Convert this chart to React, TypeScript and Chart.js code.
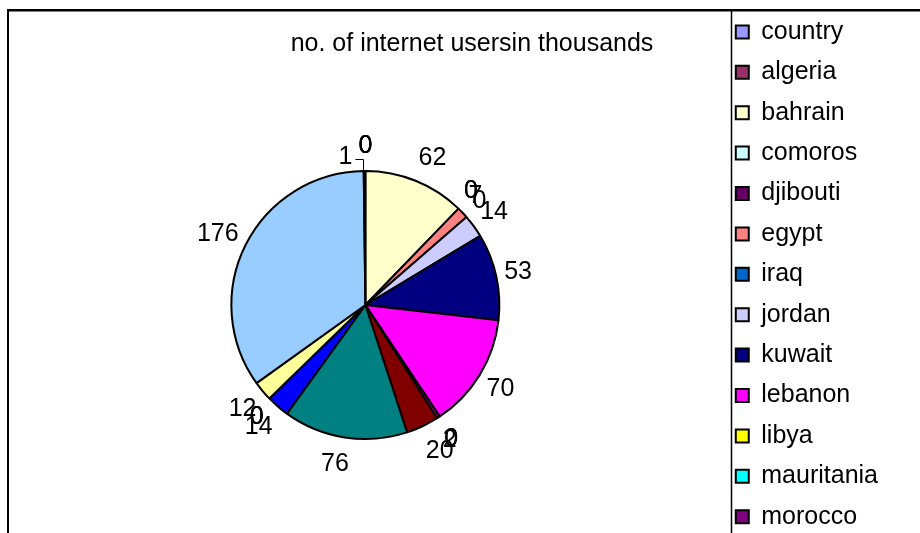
import React, { useEffect, useRef } from 'react';
import { Chart, registerables } from 'chart.js';

Chart.register(...registerables);

const categories = [
  'country', 'algeria', 'bahrain', 'comoros', 'djibouti', 'egypt', 'iraq', 'jordan',
  'kuwait', 'lebanon', 'libya', 'mauritania', 'morocco', 'oman', 'palestine', 'qatar',
  'saudi arabia', 'somalia', 'sudan', 'syria', 'tunisia', 'uae', 'yemen',
];
const users = [0, 0, 62, 0, 0, 7, 0, 14, 53, 70, 0, 0, 2, 20, 76, 14, 0, 0, 0, 12, 176, 1, 0];
const colors = [
  '#9999FF', '#993366', '#FFFFCC', '#CCFFFF', '#660066', '#FF8080', '#0066CC', '#CCCCFF',
  '#000080', '#FF00FF', '#FFFF00', '#00FFFF', '#800080', '#800000', '#008080', '#0000FF',
  '#00CCFF', '#CCFFFF', '#CCFFCC', '#FFFF99', '#99CCFF', '#FF99CC', '#CC99FF',
];
const titleText = 'no. of internet usersin thousands';
const visibleLegendItems = 13;

// style: labels that were dragged away from their slice (drawn with a leader line)
const labelNudges: Record<string, { dx: number; dy: number }> = {
  uae: { dx: -19, dy: 11 },
};

const FONT_FAMILY = '"Liberation Sans", Arial, sans-serif';
const FONT_SIZE = 25;

const framePlugin = {
  id: 'frame',
  beforeDraw(chart: any) {
    const { ctx, width, height } = chart;
    ctx.save();
    ctx.fillStyle = '#ffffff';
    ctx.fillRect(0, 0, width, height);
    ctx.restore();
  },
  afterDraw(chart: any) {
    const { ctx, width, height } = chart;
    ctx.save();
    ctx.strokeStyle = '#808080';
    ctx.lineWidth = 1;
    ctx.beginPath();
    ctx.moveTo(8, 11.5);
    ctx.lineTo(width, 11.5);
    ctx.stroke();
    ctx.strokeStyle = '#000000';
    ctx.lineWidth = 2;
    ctx.beginPath();
    ctx.moveTo(8, height);
    ctx.lineTo(8, 10);
    ctx.lineTo(width, 10);
    ctx.stroke();
    ctx.lineWidth = 1.5;
    ctx.beginPath();
    ctx.moveTo(731.5, 10);
    ctx.lineTo(731.5, height);
    ctx.stroke();
    ctx.fillStyle = '#000000';
    ctx.font = `${FONT_SIZE}px ${FONT_FAMILY}`;
    ctx.textAlign = 'center';
    ctx.textBaseline = 'middle';
    ctx.fillText(titleText, 472, 44);
    ctx.restore();
  },
};

const valueLabelPlugin = {
  id: 'valueLabels',
  afterDatasetsDraw(chart: any) {
    const { ctx } = chart;
    const meta = chart.getDatasetMeta(0);
    const values = chart.data.datasets[0].data as number[];
    const names = chart.data.labels as string[];
    ctx.save();
    ctx.font = `${FONT_SIZE}px ${FONT_FAMILY}`;
    ctx.fillStyle = '#000000';
    ctx.strokeStyle = '#000000';
    ctx.lineWidth = 1;
    ctx.textAlign = 'center';
    ctx.textBaseline = 'middle';
    meta.data.forEach((arc: any, i: number) => {
      const p = arc.getProps(['x', 'y', 'startAngle', 'endAngle', 'outerRadius'], true);
      const mid = (p.startAngle + p.endAngle) / 2;
      const text = String(values[i]);
      const w = ctx.measureText(text).width;
      const h = 36;
      const r = p.outerRadius + 8;
      const cos = Math.cos(mid);
      const sin = Math.sin(mid);
      const fx = Math.max(-1, Math.min(1, cos * 4));
      let lx = p.x + cos * r + fx * (w / 2);
      let ly = p.y + sin * r + sin * (h / 2) + 1;
      const nudge = labelNudges[names[i]];
      if (nudge) {
        lx = p.x + cos * r + cos * (w / 2) + nudge.dx;
        ly += nudge.dy;
        const ex = p.x + cos * p.outerRadius;
        const ey = p.y + sin * p.outerRadius;
        const sx = lx + w / 2 + 3;
        const sy = Math.round(ly + 2) + 0.5;
        ctx.beginPath();
        ctx.moveTo(sx, sy);
        ctx.lineTo(Math.round(ex) - 1.5, sy);
        ctx.lineTo(Math.round(ex) - 1.5, ey);
        ctx.stroke();
      }
      ctx.fillText(text, lx, ly);
    });
    ctx.restore();
  },
};

export default function App() {
  const canvasRef = useRef<HTMLCanvasElement | null>(null);

  useEffect(() => {
    const canvas = canvasRef.current;
    if (!canvas) return;
    const chart = new Chart(canvas, {
      type: 'pie',
      data: {
        labels: categories,
        datasets: [
          {
            data: users,
            backgroundColor: colors,
            borderColor: '#000000',
            borderWidth: 2,
            radius: 134,
          } as any,
        ],
      },
      options: {
        responsive: false,
        animation: false,
        devicePixelRatio: 1,
        layout: { padding: { left: 10.4, right: 32, top: 4, bottom: 0 } },
        plugins: {
          title: { display: false },
          tooltip: { enabled: false },
          legend: {
            display: true,
            position: 'right',
            align: 'start',
            labels: {
              color: '#000000',
              font: { size: FONT_SIZE, family: FONT_FAMILY },
              boxWidth: 13,
              boxHeight: 13,
              padding: 15.4,
              filter: (item: any) => item.index < visibleLegendItems,
            },
          },
        },
      } as any,
      plugins: [framePlugin, valueLabelPlugin],
    });
    return () => chart.destroy();
  }, []);

  return (
    <div style={{ position: 'absolute', left: 0, top: 0, width: 920, height: 533, overflow: 'hidden', background: '#fff' }}>
      <canvas ref={canvasRef} width={920} height={606} style={{ display: 'block' }} />
    </div>
  );
}
